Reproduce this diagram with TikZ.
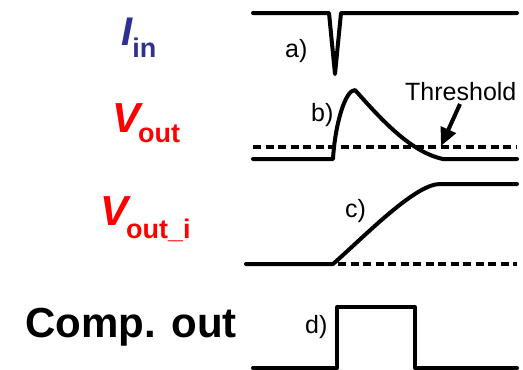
\documentclass[tikz,border=0pt]{standalone}
\usepackage{fontspec}
\setmainfont{Liberation Sans}
\usetikzlibrary{arrows.meta}
\definecolor{inblue}{RGB}{46,49,146}
\definecolor{outred}{RGB}{255,0,0}
\begin{document}
\begin{tikzpicture}[x=1pt,y=-1pt,
  wave/.style={line width=4pt,line join=round,line cap=round},
  thr/.style={line width=4pt,dash pattern=on 8pt off 4.5pt},
  lab/.style={font=\fontsize{25}{25}\selectfont,inner sep=0pt,anchor=base west},
  sig/.style={inner sep=0pt,anchor=base west}]
\useasboundingbox (0,0) rectangle (523,370);
% left labels
\node[sig,text=inblue] (iin) at (121,45) {\fontsize{40}{40}\selectfont\bfseries\itshape I\raisebox{-12pt}{\fontsize{27}{27}\selectfont\upshape in}};
\node[sig,text=outred] (vout) at (112,132) {\fontsize{42}{42}\selectfont\bfseries\itshape V\kern-2pt\raisebox{-10pt}{\fontsize{27}{27}\selectfont\upshape out}};
\node[sig,text=outred] (vouti) at (100,225) {\fontsize{42}{42}\selectfont\bfseries\itshape V\kern-2pt\raisebox{-13pt}{\fontsize{27}{27}\selectfont\upshape out\_i}};
\node[sig] (comp) at (25,337) {\fontsize{42}{42}\selectfont\bfseries Comp. out};
% a) input current
\draw[wave] (253,13) -- (329,13) -- (335,74) -- (341,13) -- (517,13);
\node[lab] (la) at (285,57) {a)};
% b) output voltage
\draw[thr] (253,147) -- (517,147);
\draw[wave] (253,159) -- (333,159) .. controls (335,125) and (345,90) .. (355,90)
  .. controls (380,118) and (410,152) .. (443,159) -- (517,159);
\node[lab] (lb) at (311,121) {b)};
\node[lab] (lthr) at (405,100) {Threshold};
\coordinate (thrtip) at (441,146);
\draw[line width=4pt,-{Triangle[length=18pt,width=16pt]}] (460,104) -- (thrtip);
% c) integrated output
\draw[thr] (338,264) -- (517,264);
\draw[wave] (246,264) -- (333,264) .. controls (365,236) and (415,184) .. (440,184) -- (517,184);
\node[lab] (lc) at (345,217) {c)};
% d) comparator output
\draw[wave] (253,368) -- (337,368) -- (337,307) -- (415,307) -- (415,368) -- (517,368);
\node[lab] (ld) at (305,333) {d)};
\end{tikzpicture}
\end{document}
